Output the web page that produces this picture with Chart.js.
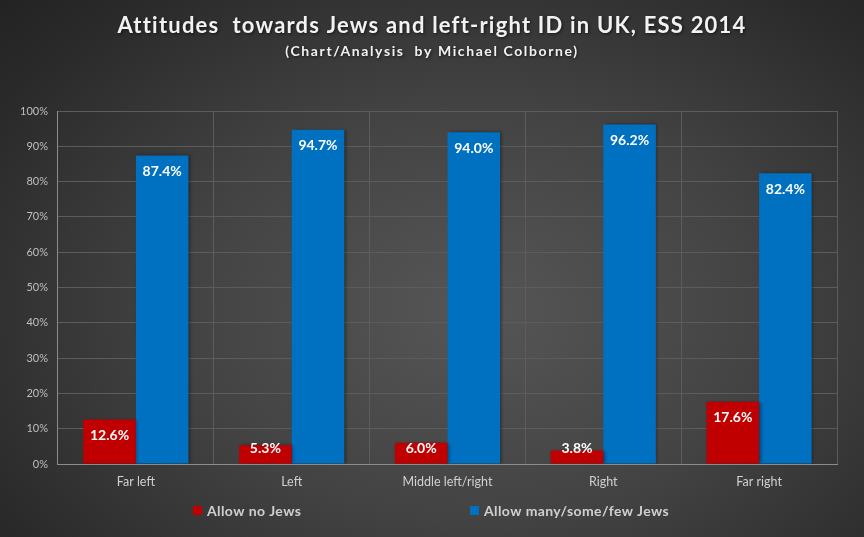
<!DOCTYPE html>
<html>
<head>
<meta charset="utf-8">
<script src="https://cdn.jsdelivr.net/npm/chart.js@4.4.0/dist/chart.umd.min.js"></script>
<style>
html,body{margin:0;padding:0;}
body{width:864px;height:537px;overflow:hidden;
background:radial-gradient(ellipse 75% 85% at 55% 58%, #565656 0%, #434343 45%, #2a2a2a 85%, #232323 100%);}
#wrap{position:relative;width:864px;height:537px;}
</style>
</head>
<body>
<div id="wrap"><canvas id="c" width="864" height="537"></canvas></div>
<script>
const categories = ["Far left", "Left", "Middle left/right", "Right", "Far right"];
const allowNoJews = [12.6, 5.3, 6.0, 3.8, 17.6];
const allowSomeJews = [87.4, 94.7, 94.0, 96.2, 82.4];
const seriesNames = ["Allow no Jews", "Allow many/some/few Jews"];
const seriesColors = ["#C00000", "#0070C0"];
const yTicks = [0, 10, 20, 30, 40, 50, 60, 70, 80, 90, 100];
const titleText = "Attitudes  towards Jews and left-right ID in UK, ESS 2014";
const subtitleText = "(Chart/Analysis  by Michael Colborne)";

const FONT = "Lato, 'Open Sans', sans-serif";

const titles = {
  id: 'titles',
  afterDraw(chart) {
    const ctx = chart.ctx;
    ctx.save();
    ctx.textAlign = "center";
    ctx.textBaseline = "alphabetic";
    ctx.shadowColor = "rgba(0,0,0,0.6)";
    ctx.shadowBlur = 3;
    ctx.shadowOffsetX = 1;
    ctx.shadowOffsetY = 1;
    ctx.fillStyle = "#f2f2f2";
    ctx.font = "bold 22px " + FONT;
    ctx.letterSpacing = "1.2px";
    ctx.fillText(titleText, 432, 33);
    ctx.font = "bold 14px " + FONT;
    ctx.letterSpacing = "1.6px";
    ctx.fillText(subtitleText, 432, 56);
    ctx.restore();
  }
};

const barShadow = {
  id: 'barShadow',
  beforeDatasetsDraw(chart) {
    const ctx = chart.ctx;
    ctx.save();
    ctx.shadowColor = "rgba(0,0,0,0.4)";
    ctx.shadowBlur = 3;
    ctx.shadowOffsetX = 1.5;
    ctx.shadowOffsetY = 0;
  },
  afterDatasetsDraw(chart) {
    chart.ctx.restore();
  }
};

const valueLabels = {
  id: 'valueLabels',
  afterDatasetsDraw(chart) {
    const ctx = chart.ctx;
    ctx.save();
    ctx.font = "bold 14px " + FONT;
    ctx.fillStyle = "#ffffff";
    ctx.textAlign = "center";
    ctx.textBaseline = "middle";
    chart.data.datasets.forEach((ds, i) => {
      const meta = chart.getDatasetMeta(i);
      meta.data.forEach((bar, j) => {
        const y = Math.min(bar.y + 16, bar.base - 15);
        ctx.fillText(ds.data[j].toFixed(1) + "%", bar.x, y);
      });
    });
    ctx.restore();
  }
};

const customLegend = {
  id: 'customLegend',
  afterDraw(chart) {
    const ctx = chart.ctx;
    ctx.save();
    ctx.font = "bold 14px " + FONT;
    ctx.letterSpacing = "0.4px";
    ctx.textBaseline = "middle";
    ctx.textAlign = "left";
    const xs = [193, 470];
    const y = 511;
    chart.data.datasets.forEach((ds, i) => {
      ctx.fillStyle = ds.backgroundColor;
      ctx.fillRect(xs[i], y - 5, 9, 9);
      ctx.fillStyle = "#d0d0d0";
      ctx.fillText(ds.label, xs[i] + 14, y);
    });
    ctx.restore();
  }
};

new Chart(document.getElementById('c'), {
  type: 'bar',
  data: {
    labels: categories,
    datasets: [
      { label: seriesNames[0], data: allowNoJews, backgroundColor: seriesColors[0] },
      { label: seriesNames[1], data: allowSomeJews, backgroundColor: seriesColors[1] }
    ]
  },
  options: {
    responsive: false,
    animation: false,
    devicePixelRatio: 1,
    layout: { padding: { left: 10, right: 27, top: 111, bottom: 38 } },
    datasets: { bar: { categoryPercentage: 0.675, barPercentage: 1.0 } },
    plugins: {
      legend: { display: false },
      tooltip: { enabled: false },
      title: { display: false },
      subtitle: { display: false }
    },
    scales: {
      x: {
        grid: { color: "#5c5c5c", offset: true, drawTicks: false },
        border: { color: "#8c8c8c", width: 1 },
        ticks: { color: "#d0d0d0", font: { family: FONT, size: 12.5 }, padding: 10 }
      },
      y: {
        min: 0, max: 100,
        afterBuildTicks(axis) { axis.ticks = yTicks.map(v => ({ value: v })); },
        grid: { color: "#5c5c5c", drawTicks: false },
        border: { color: "#8c8c8c", width: 1 },
        ticks: { color: "#bfbfbf", font: { family: FONT, size: 11 }, padding: 10,
                 callback: v => v + "%" }
      }
    }
  },
  plugins: [barShadow, valueLabels, customLegend, titles]
});
</script>
</body>
</html>
